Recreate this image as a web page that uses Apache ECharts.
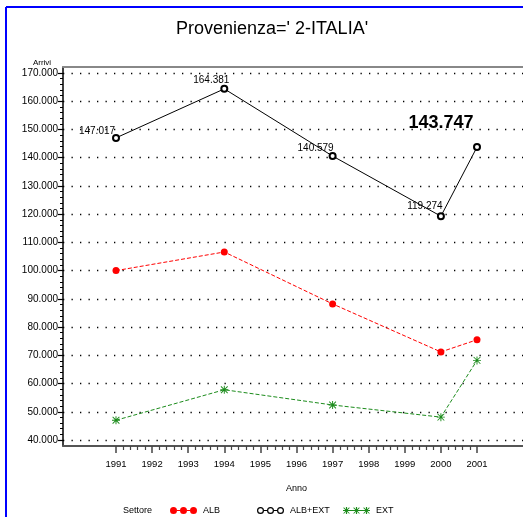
<!DOCTYPE html>
<html>
<head>
<meta charset="utf-8">
<script src="https://cdn.jsdelivr.net/npm/echarts@6/dist/echarts.min.js"></script>
<style>
html,body{margin:0;padding:0;background:#fff;}
#chart{width:523px;height:517px;}
</style>
</head>
<body>
<div id="chart"></div>
<script>
// ---- data (values in thousands) ----
const years = [1991, 1994, 1997, 2000, 2001];
const alb = [100.0, 106.6, 88.2, 71.2, 75.5];
const albExt = [147.017, 164.381, 140.579, 119.274, 143.747];
const ext = [47.0, 57.8, 52.4, 48.1, 68.2];
const seriesNames = ['ALB', 'ALB+EXT', 'EXT'];
const xRange = [1991, 2001];
const yRange = [40, 170];
const titleText = "Provenienza=' 2-ITALIA'";
const yName = 'Arrivi';
const xName = 'Anno';
const legendTitle = 'Settore';

const FONT = "'Liberation Sans', Arial, sans-serif";
const RED = '#ff0000', BLACK = '#000000', GREEN = '#1c8c1c';

const starPath = 'path://M4.4,0h1.2v10h-1.2z M0,4.4h10v1.2h-10z M1.2,0.4L9.6,8.8L8.8,9.6L0.4,1.2z M8.8,0.4L9.6,1.2L1.2,9.6L0.4,8.8z';

function circ(cx, cy, r, rev) {
  return rev
    ? 'M' + (cx - r) + ',' + cy + ' a' + r + ',' + r + ' 0 1,1 ' + (2 * r) + ',0 a' + r + ',' + r + ' 0 1,1 ' + (-2 * r) + ',0 z '
    : 'M' + (cx - r) + ',' + cy + ' a' + r + ',' + r + ' 0 1,0 ' + (2 * r) + ',0 a' + r + ',' + r + ' 0 1,0 ' + (-2 * r) + ',0 z ';
}
function rect(x, y, w, h) { return 'M' + x + ',' + y + ' h' + w + ' v' + h + ' h' + (-w) + ' z '; }
function star(cx, cy, s) {
  const h = s / 2, t = 0.6;
  let p = rect(cx - t, cy - h, 2 * t, s) + rect(cx - h, cy - t, s, 2 * t);
  const d = h * 0.75, e = 0.55;
  p += 'M' + (cx - d) + ',' + (cy - d - e) + ' L' + (cx + d + e) + ',' + (cy + d) + ' L' + (cx + d) + ',' + (cy + d + e) + ' L' + (cx - d - e) + ',' + (cy - d) + ' z ';
  p += 'M' + (cx + d) + ',' + (cy - d - e) + ' L' + (cx + d + e) + ',' + (cy - d) + ' L' + (cx - d) + ',' + (cy + d + e) + ' L' + (cx - d - e) + ',' + (cy + d) + ' z ';
  return p;
}
const iconAlb = 'path://' + circ(3.5, 3.5, 3.5) + circ(13.5, 3.5, 3.5) + circ(23.5, 3.5, 3.5) + rect(7, 3, 3, 1) + rect(17, 3, 3, 1);
const iconAlbExt = 'path://' + circ(3.5, 3.5, 3.5) + circ(3.5, 3.5, 2.3, true) + circ(13.5, 3.5, 3.5) + circ(13.5, 3.5, 2.3, true) + circ(23.5, 3.5, 3.5) + circ(23.5, 3.5, 2.3, true) + rect(7, 3, 3, 1) + rect(17, 3, 3, 1);
const iconExt = 'path://' + star(3.5, 3.5, 7) + star(13.5, 3.5, 7) + star(23.5, 3.5, 7) + rect(7, 3, 3, 1) + rect(17, 3, 3, 1);

function pairs(vals) { return years.map((y, i) => [y, vals[i]]); }

const labelOffsets = [[-19, -7], [-13, -8.5], [-17, -7.5], [-16, -9.5], [-36, -24]];
const albExtData = years.map((y, i) => {
  const item = { value: [y, albExt[i]], label: { offset: labelOffsets[i] } };
  if (i === years.length - 1) {
    item.label.fontSize = 18;
    item.label.fontWeight = 'bold';
  }
  return item;
});

function legendFor(name, icon, left) {
  return {
    data: [{ name: name, icon: icon }],
    left: left, top: 506, padding: 0, itemGap: 0,
    itemWidth: 27, itemHeight: 7,
    selectedMode: false,
    itemStyle: { borderWidth: 0 },
    textStyle: { fontFamily: FONT, fontSize: 9, color: '#000', padding: [0, 0, 0, 1] }
  };
}

const option = {
  animation: false,
  backgroundColor: '#fff',
  title: {
    text: titleText, left: 267, top: 15, textAlign: 'center',
    textStyle: { fontFamily: FONT, fontSize: 18, fontWeight: 'normal', color: '#000' }
  },
  graphic: [
    { type: 'line', shape: { x1: 6, y1: 7, x2: 6, y2: 517 }, style: { stroke: '#0000ff', lineWidth: 2 } },
    { type: 'line', shape: { x1: 6, y1: 7, x2: 523, y2: 7 }, style: { stroke: '#0000ff', lineWidth: 2 } },
    { type: 'text', x: 42, y: 63, style: { text: yName, fontFamily: FONT, fontSize: 8, fill: '#000', align: 'center', verticalAlign: 'middle' } },
    { type: 'text', x: 123, y: 511, style: { text: legendTitle, fontFamily: FONT, fontSize: 9, fill: '#000', align: 'left', verticalAlign: 'middle' } }
  ],
  legend: [
    legendFor(seriesNames[0], iconAlb, 170),
    legendFor(seriesNames[1], iconAlbExt, 257),
    legendFor(seriesNames[2], iconExt, 343)
  ],
  grid: [
    { left: 63, right: 0, top: 67, bottom: 71 },   // frame
    { left: 116, right: 46, top: 73, bottom: 77 }, // data
    { left: 63, right: 0, top: 73, bottom: 77 }    // gridlines / y labels
  ],
  xAxis: [
    { gridIndex: 0, type: 'value', min: 0, max: 1, position: 'bottom',
      axisLine: { show: true, onZero: false, lineStyle: { color: '#555', width: 2 } },
      axisTick: { show: false }, axisLabel: { show: false }, splitLine: { show: false } },
    { gridIndex: 0, type: 'value', min: 0, max: 1, position: 'top',
      axisLine: { show: true, onZero: false, lineStyle: { color: '#888', width: 2 } },
      axisTick: { show: false }, axisLabel: { show: false }, splitLine: { show: false } },
    { gridIndex: 1, type: 'value', min: xRange[0], max: xRange[1], interval: 1, position: 'bottom', offset: 6,
      axisLine: { show: false, onZero: false },
      axisTick: { show: true, length: 7, lineStyle: { color: '#444', width: 1.5 } },
      minorTick: { show: true, splitNumber: 5, length: 4, lineStyle: { color: '#444', width: 1.2 } },
      axisLabel: { margin: 13, fontFamily: FONT, fontSize: 9.5, color: '#000', formatter: v => String(v) },
      splitLine: { show: false },
      name: xName, nameLocation: 'middle', nameGap: 38,
      nameTextStyle: { fontFamily: FONT, fontSize: 9, color: '#000' } },
    { gridIndex: 2, type: 'value', min: 0, max: 1, show: false }
  ],
  yAxis: [
    { gridIndex: 0, type: 'value', min: 0, max: 1,
      axisLine: { show: true, onZero: false, lineStyle: { color: '#000', width: 1.5 } },
      axisTick: { show: false }, axisLabel: { show: false }, splitLine: { show: false } },
    { gridIndex: 1, type: 'value', min: yRange[0], max: yRange[1], show: false },
    { gridIndex: 2, type: 'value', min: yRange[0], max: yRange[1], interval: 10,
      axisLine: { show: false, onZero: false },
      axisTick: { show: true, length: 5, lineStyle: { color: '#000', width: 1.2 } },
      minorTick: { show: true, splitNumber: 5, length: 3, lineStyle: { color: '#000', width: 1 } },
      axisLabel: { margin: 5, fontFamily: FONT, fontSize: 10, color: '#000', formatter: v => v.toFixed(3) },
      splitLine: { show: true, lineStyle: { color: '#000', width: 1.3, type: [1.3, 7.2] } } }
  ],
  series: [
    { name: seriesNames[0], type: 'line', xAxisIndex: 2, yAxisIndex: 1, data: pairs(alb),
      symbol: 'circle', symbolSize: 7, itemStyle: { color: RED },
      lineStyle: { color: RED, width: 1, type: [4, 2] }, z: 3 },
    { name: seriesNames[1], type: 'line', xAxisIndex: 2, yAxisIndex: 1, data: albExtData,
      symbol: 'emptyCircle', symbolSize: 6, itemStyle: { color: BLACK, borderWidth: 1.4 },
      lineStyle: { color: BLACK, width: 1 }, z: 4,
      label: { show: true, position: 'inside', color: '#000', fontFamily: FONT, fontSize: 10,
        formatter: p => p.value[1].toFixed(3) } },
    { name: seriesNames[2], type: 'line', xAxisIndex: 2, yAxisIndex: 1, data: pairs(ext),
      symbol: starPath, symbolSize: 8, itemStyle: { color: GREEN },
      lineStyle: { color: GREEN, width: 1, type: [4, 2] }, z: 3 }
  ]
};

const chart = echarts.init(document.getElementById('chart'), null, { renderer: 'canvas' });
chart.setOption(option);
</script>
</body>
</html>
